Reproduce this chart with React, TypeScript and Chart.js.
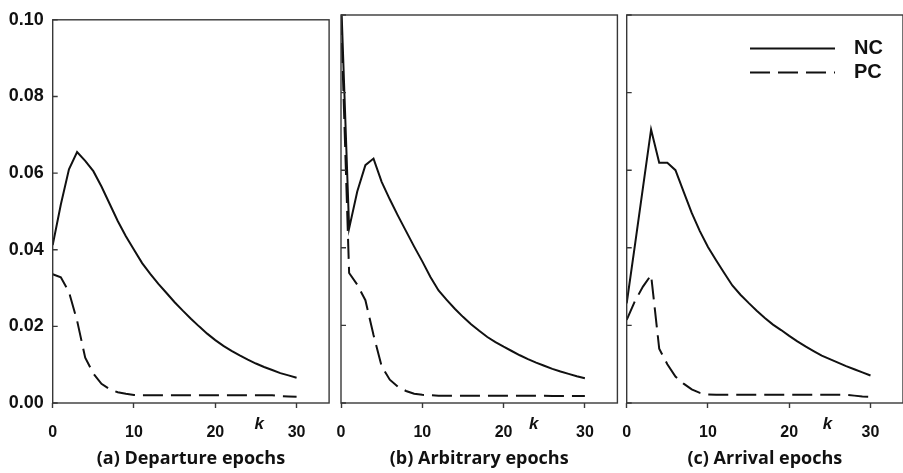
import React, { useEffect, useRef } from "react";
import { Chart, registerables } from "chart.js";

Chart.register(...registerables);

// ---------- data ----------
const kValues = [
  0, 1, 2, 3, 4, 5, 6, 7, 8, 9, 10, 11, 12, 13, 14, 15, 16, 17, 18, 19, 20,
  21, 22, 23, 24, 25, 26, 27, 28, 29, 30,
];

const seriesLabels = ["NC", "PC"];
const panelTitles = [
  "(a) Departure epochs",
  "(b) Arbitrary epochs",
  "(c) Arrival epochs",
];

// (a) Departure epochs
const departureNC = [
  0.0412, 0.0518, 0.061, 0.0655, 0.0632, 0.0605, 0.0565, 0.052, 0.0475,
  0.0435, 0.04, 0.0365, 0.0337, 0.0311, 0.0287, 0.0263, 0.0241, 0.022, 0.02,
  0.0181, 0.0164, 0.0149, 0.0136, 0.0124, 0.0113, 0.0103, 0.0094, 0.0086,
  0.0078, 0.0072, 0.0066,
];
const departurePC = [
  0.0336, 0.0328, 0.029, 0.0215, 0.0118, 0.0077, 0.005, 0.0036, 0.0028,
  0.0024, 0.0021, 0.002, 0.002, 0.002, 0.002, 0.002, 0.002, 0.002, 0.002,
  0.002, 0.002, 0.002, 0.002, 0.002, 0.002, 0.002, 0.002, 0.002, 0.0018,
  0.0017, 0.0016,
];

// (b) Arbitrary epochs
const arbitraryNC = [
  0.105, 0.045, 0.0545, 0.0613, 0.063, 0.057, 0.0525, 0.0483, 0.0443, 0.0403,
  0.0365, 0.0325, 0.029, 0.0266, 0.0243, 0.0222, 0.0203, 0.0186, 0.017,
  0.0157, 0.0145, 0.0134, 0.0123, 0.0113, 0.0104, 0.0096, 0.0088, 0.0081,
  0.0075, 0.0069, 0.0064,
];
const arbitraryPC = [
  0.1, 0.0335, 0.0305, 0.0265, 0.0175, 0.0095, 0.006, 0.0042, 0.0031, 0.0024,
  0.0021, 0.002, 0.0019, 0.0019, 0.0019, 0.0019, 0.0019, 0.0019, 0.0019,
  0.0019, 0.0019, 0.0019, 0.0019, 0.0019, 0.0019, 0.0019, 0.0018, 0.0018,
  0.0018, 0.0018, 0.0018,
];

// (c) Arrival epochs
const arrivalNC = [
  0.0257, 0.0405, 0.0555, 0.0705, 0.0619, 0.0619, 0.06, 0.0545, 0.049, 0.0443,
  0.0402, 0.0368, 0.0335, 0.0303, 0.0279, 0.0258, 0.0238, 0.0219, 0.0202,
  0.0188, 0.0173, 0.0159, 0.0146, 0.0134, 0.0122, 0.0113, 0.0104, 0.0095,
  0.0087, 0.0079, 0.0071,
];
const arrivalPC = [
  0.0214, 0.0262, 0.03, 0.033, 0.014, 0.01, 0.0068, 0.005, 0.0035, 0.0026,
  0.0022, 0.0021, 0.0021, 0.0021, 0.0021, 0.0021, 0.0021, 0.0021, 0.0021,
  0.0021, 0.0021, 0.0021, 0.0021, 0.0021, 0.0021, 0.0021, 0.0021, 0.0021,
  0.0019, 0.0017, 0.0016,
];

const panelSeries = [
  [departureNC, departurePC],
  [arbitraryNC, arbitraryPC],
  [arrivalNC, arrivalPC],
];

const xMin = 0;
const xMax = 34;
const xStep = 10;
const yMin = 0;
const yMax = 0.1;
const yStep = 0.02;
const kLabelPositions = [25.4, 23.7, 24.7];

// ---------- layout / style ----------
const W = 903;
const H = 473;
const panelLefts = [52.7, 341, 626.7];
const plotWidth = 276.4;
const plotTop = 15;
const xAxisHeight = 70;
const frameColor = "#383838";
const lineColor = "#111111";
const dashPattern = [20, 8];
const tickFont = '"Liberation Sans", Arial, sans-serif';
const titleFont = '"Open Sans", "Noto Sans", sans-serif';

const decorPlugin = {
  id: "decor",
  afterDraw(chart: any, _args: any, opts: any) {
    const { ctx, chartArea } = chart;
    const { left, right, top, bottom } = chartArea;
    ctx.save();
    ctx.strokeStyle = frameColor;
    ctx.lineWidth = 1.4;
    ctx.setLineDash([]);
    ctx.strokeRect(left, top, right - left, bottom - top);
    // inward y tick marks
    const ys = chart.scales.y;
    ctx.beginPath();
    ys.ticks.forEach((t: any) => {
      const py = ys.getPixelForValue(t.value);
      ctx.moveTo(left, py);
      ctx.lineTo(left + 5, py);
    });
    ctx.stroke();
    // k label
    const xs = chart.scales.x;
    ctx.fillStyle = "#111";
    ctx.font = `italic bold 17px ${tickFont}`;
    ctx.textAlign = "center";
    ctx.textBaseline = "middle";
    ctx.fillText("k", xs.getPixelForValue(opts.kPos), 424);
    // legend
    if (opts.legend) {
      const rows = [48.5, 72.5];
      chart.data.datasets.forEach((ds: any, i: number) => {
        ctx.beginPath();
        ctx.strokeStyle = ds.borderColor;
        ctx.lineWidth = ds.borderWidth;
        ctx.setLineDash(ds.borderDash || []);
        ctx.moveTo(750, rows[i]);
        ctx.lineTo(835, rows[i]);
        ctx.stroke();
        ctx.setLineDash([]);
        ctx.fillStyle = "#111";
        ctx.font = `bold 20px ${tickFont}`;
        ctx.textAlign = "left";
        ctx.textBaseline = "middle";
        ctx.fillText(ds.label, 854, rows[i]);
      });
    }
    ctx.restore();
  },
};

function Panel({ index }: { index: number }) {
  const ref = useRef<HTMLCanvasElement | null>(null);
  useEffect(() => {
    if (!ref.current) return;
    const showY = index === 0;
    const left = panelLefts[index];
    const yWidth = showY ? left : 0;
    const padLeft = showY ? 0 : left;
    const padRight = Math.max(0, W - (left + plotWidth));
    const series = panelSeries[index];
    const chart = new Chart(ref.current, {
      type: "line",
      data: {
        datasets: series.map((vals, si) => ({
          label: seriesLabels[si],
          data: vals.map((v, i) => ({ x: kValues[i], y: v })),
          borderColor: lineColor,
          backgroundColor: lineColor,
          borderWidth: 2,
          borderDash: si === 1 ? dashPattern : [],
          pointRadius: 0,
          tension: 0,
          fill: false,
        })),
      },
      options: {
        responsive: false,
        animation: false,
        devicePixelRatio: 1,
        layout: {
          padding: { left: padLeft, right: padRight, top: plotTop, bottom: 0 },
        },
        plugins: {
          legend: { display: false },
          tooltip: { enabled: false },
          decor: { kPos: kLabelPositions[index], legend: index === 2 },
        } as any,
        scales: {
          x: {
            type: "linear",
            min: xMin,
            max: xMax,
            afterFit: (s: any) => {
              s.height = xAxisHeight;
            },
            border: { display: false },
            grid: {
              display: true,
              drawOnChartArea: false,
              drawTicks: true,
              tickLength: 5,
              tickColor: frameColor,
              tickWidth: 1.4,
            },
            ticks: {
              stepSize: xStep,
              includeBounds: false,
              maxRotation: 0,
              padding: 15,
              color: "#111",
              font: { family: tickFont, size: 16, weight: "bold" },
            },
            title: {
              display: true,
              text: panelTitles[index],
              color: "#111",
              padding: { top: 0, bottom: 3 },
              font: { family: titleFont, size: 18, weight: "bold" },
            },
          },
          y: {
            type: "linear",
            min: yMin,
            max: yMax,
            afterFit: (s: any) => {
              s.width = yWidth;
            },
            border: { display: false },
            grid: { display: false, drawTicks: false },
            ticks: {
              display: showY,
              stepSize: yStep,
              padding: 9,
              color: "#111",
              font: { family: tickFont, size: 18, weight: "bold" },
              callback: (v: any) => Number(v).toFixed(2),
            },
          },
        },
      } as any,
      plugins: [decorPlugin],
    });
    return () => chart.destroy();
  }, [index]);
  return (
    <canvas
      ref={ref}
      width={W}
      height={H}
      style={{ position: "absolute", left: 0, top: 0, width: W, height: H }}
    />
  );
}

export default function App() {
  return (
    <div
      style={{
        position: "absolute",
        left: 0,
        top: 0,
        width: W,
        height: H,
        background: "#fff",
        overflow: "hidden",
      }}
    >
      <Panel index={0} />
      <Panel index={1} />
      <Panel index={2} />
    </div>
  );
}
